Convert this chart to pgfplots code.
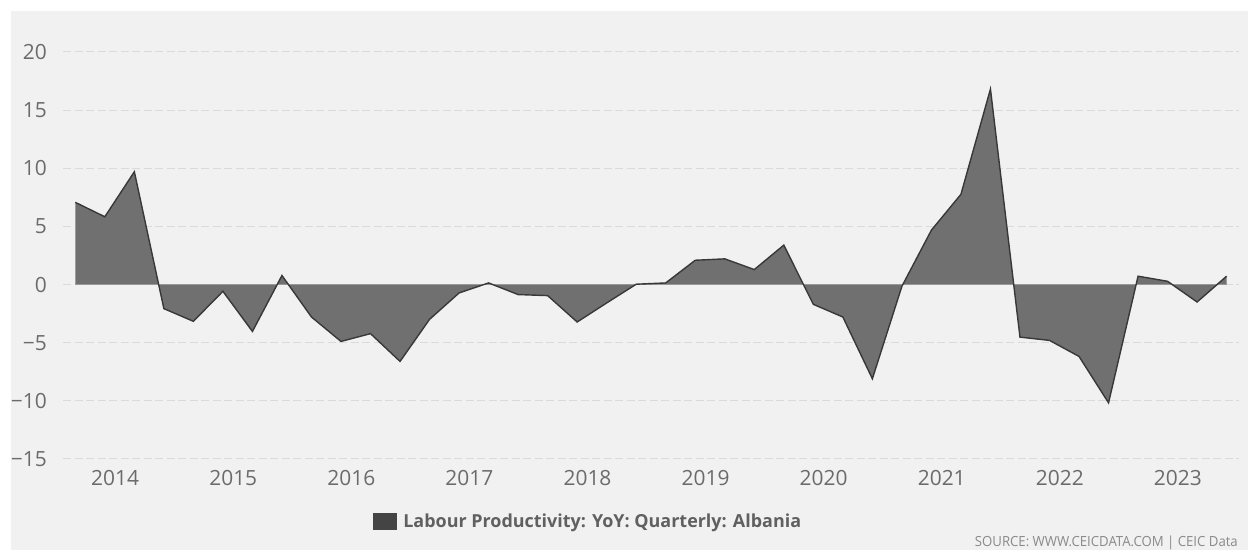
\documentclass[border=0pt]{standalone}
\usepackage{pgfplots}
\pgfplotsset{compat=1.18}
\usepackage{pgfplotstable}
\usepackage{fontspec}
\setmainfont{Open Sans}
\definecolor{bg}{HTML}{F1F1F1}
\definecolor{gridc}{HTML}{DADADA}
\definecolor{areafill}{HTML}{707070}
\definecolor{arealine}{HTML}{383838}
\definecolor{tickc}{HTML}{6B6B6B}
\definecolor{legsq}{HTML}{444444}
\definecolor{legtxt}{HTML}{606060}
\definecolor{srcc}{HTML}{8A8A8A}
\pgfplotstableread{
i v
0 7.07
1 5.83
2 9.70
3 -2.07
4 -3.16
5 -0.58
6 -4.03
7 0.78
8 -2.79
9 -4.89
10 -4.22
11 -6.61
12 -2.99
13 -0.72
14 0.14
15 -0.86
16 -0.95
17 -3.22
18 -1.58
19 0.03
20 0.14
21 2.09
22 2.21
23 1.29
24 3.39
25 -1.70
26 -2.79
27 -8.10
28 -0.15
29 4.68
30 7.76
31 16.81
32 -4.52
33 -4.80
34 -6.18
35 -10.17
36 0.72
37 0.28
38 -1.50
39 0.72
}\datatable
\begin{document}
\begin{tikzpicture}[x=1bp,y=1bp]
\path[use as bounding box] (0,0) rectangle (1248,550);
\fill[white] (0,0) rectangle (1248,550);
\fill[bg] (11,0) rectangle (1248,539);
\begin{axis}[
  at={(63bp,91bp)}, anchor=south west,
  scale only axis, width=1176bp, height=407bp,
  xmin=-0.417, xmax=39.42, ymin=-15, ymax=20,
  axis line style={draw=none},
  major tick length=0pt,
  ytick={-15,-10,-5,0,5,10,15,20},
  yticklabels={−15,−10,−5,0,5,10,15,20},
  xtick={1.35,5.35,9.35,13.35,17.35,21.35,25.35,29.35,33.35,37.35},
  xticklabels={2014,2015,2016,2017,2018,2019,2020,2021,2022,2023},
  ymajorgrids,
  major grid style={gridc, dash pattern=on 8bp off 3.5bp, line width=1bp},
  yticklabel style={font=\fontsize{21}{21}\selectfont, text=tickc, anchor=east, inner sep=0pt, xshift=-16bp},
  xticklabel style={font=\fontsize{21}{21}\selectfont, text=tickc, anchor=north, inner sep=0pt, yshift=-11bp},
  legend style={at={(axis description cs:0.2634,-0.154)}, anchor=west, draw=none, fill=none,
    inner sep=0pt, font=\fontsize{18}{18}\selectfont\bfseries, text=legtxt,
    nodes={inner sep=0pt}, /tikz/every odd column/.style={column sep=6bp}},
  legend image code/.code={\fill[legsq] (0bp,-7.5bp) rectangle (23bp,7.5bp);},
]
\addplot[fill=areafill, draw=none, forget plot] table[x=i,y=v]{\datatable} \closedcycle;
\addplot[gridc!70!black, line width=0.8bp, forget plot] coordinates {(0,0) (39,0)};
\addplot[arealine, line width=1.4bp] table[x=i,y=v]{\datatable};
\addlegendentry{Labour Productivity: YoY: Quarterly: Albania}
\end{axis}
\node[anchor=base east, inner sep=0pt, text=srcc, font=\fontsize{14}{14}\selectfont] at (1238,3.3) {\scalebox{0.945}[1]{SOURCE: WWW.CEICDATA.COM | CEIC Data}};
\end{tikzpicture}
\end{document}
